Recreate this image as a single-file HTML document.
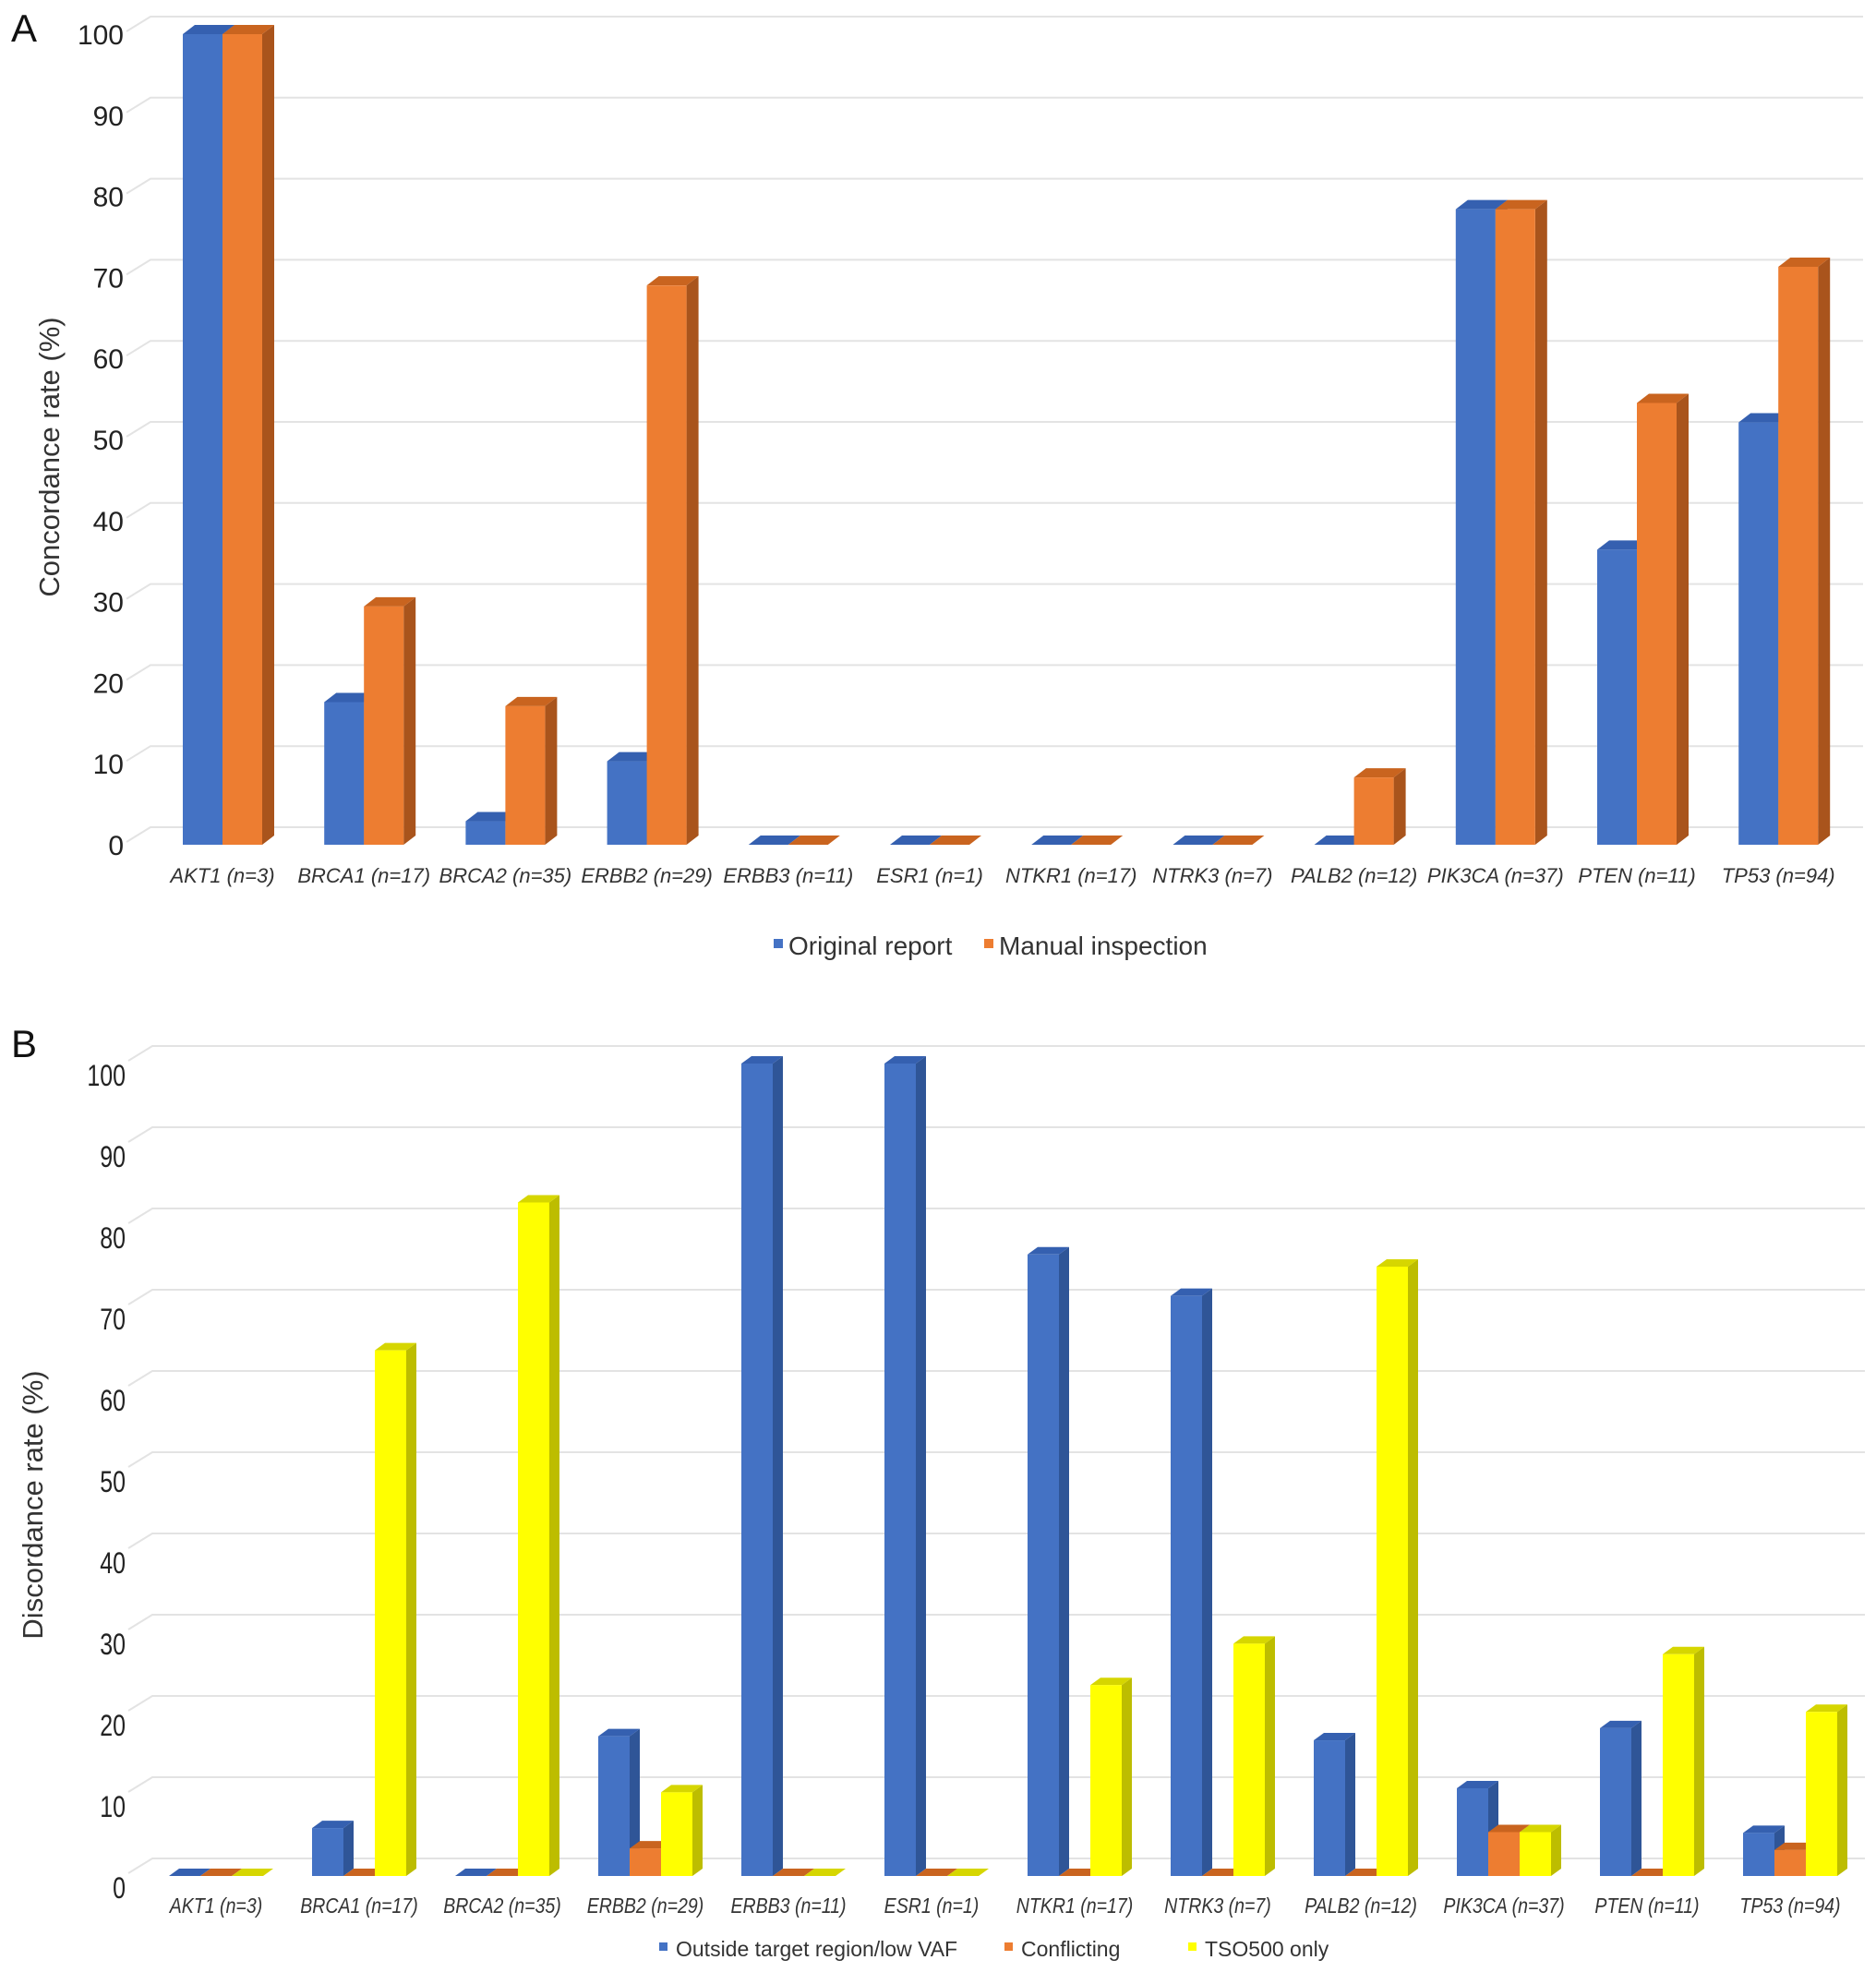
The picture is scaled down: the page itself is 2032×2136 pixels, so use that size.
<!DOCTYPE html>
<html><head><meta charset="utf-8"><style>
html,body{margin:0;padding:0;background:#fff}
svg{display:block;font-family:"Liberation Sans",sans-serif}
</style></head><body>
<svg id="fig" width="2032" height="2136" viewBox="0 0 2032 2136">
<text x="12" y="45" font-size="42" fill="#111">A</text>
<text x="12" y="1145" font-size="42" fill="#111">B</text>
<text transform="translate(64,495) rotate(-90)" text-anchor="middle" font-size="31" fill="#333">Concordance rate (%)</text>
<text transform="translate(46,1630) rotate(-90)" text-anchor="middle" font-size="31" fill="#333">Discordance rate (%)</text>
<g id="ga"></g>
<g id="gb"></g>
<g>
 <rect x="838" y="1017" width="10" height="10" fill="#4472C4"/>
 <text x="854" y="1034" font-size="28" fill="#333">Original report</text>
 <rect x="1066" y="1017" width="10" height="10" fill="#ED7D31"/>
 <text x="1082" y="1034" font-size="28" fill="#333">Manual inspection</text>
</g>
<g>
 <rect x="714" y="2104" width="9" height="9" fill="#4472C4"/>
 <text x="732" y="2119" font-size="23" fill="#333">Outside target region/low VAF</text>
 <rect x="1088" y="2104" width="9" height="9" fill="#ED7D31"/>
 <text x="1106" y="2119" font-size="23" fill="#333">Conflicting</text>
 <rect x="1287" y="2104" width="9" height="9" fill="#FFFF00"/>
 <text x="1305" y="2119" font-size="23" fill="#333">TSO500 only</text>
</g>
</svg>
<script>
const categories=["AKT1 (n=3)","BRCA1 (n=17)","BRCA2 (n=35)","ERBB2 (n=29)","ERBB3 (n=11)","ESR1 (n=1)","NTKR1 (n=17)","NTRK3 (n=7)","PALB2 (n=12)","PIK3CA (n=37)","PTEN (n=11)","TP53 (n=94)"];
const originalReport=[100,17.6,2.9,10.3,0,0,0,0,0,78.4,36.4,52.1];
const manualInspection=[100,29.4,17.1,69,0,0,0,0,8.3,78.4,54.5,71.3];
const outsideTarget=[0,5.9,0,17.2,100,100,76.5,71.4,16.7,10.8,18.2,5.3];
const conflicting=[0,0,0,3.4,0,0,0,0,0,5.4,0,3.2];
const tso500Only=[0,64.7,82.9,10.3,0,0,23.5,28.6,75,5.4,27.3,20.2];
const yTicks=[0,10,20,30,40,50,60,70,80,90,100];

const NS="http://www.w3.org/2000/svg";
function mk(p,tag,at){const e=document.createElementNS(NS,tag);for(const k in at)e.setAttribute(k,at[k]);p.appendChild(e);return e;}
const COL={b:["#4472C4","#2F5597","#3560B0"],o:["#ED7D31","#A9541C","#C9641F"],y:["#FFFF00","#BDBD00","#D6D600"]};

function chart(g,cfg){
  const ys=v=>cfg.base-v*cfg.unit;
  const xs=i=>cfg.x0+i*cfg.step;
  yTicks.forEach(t=>{
    const y=ys(t)-cfg.back;
    const gl=mk(g,"path",{d:`M${cfg.pl-26} ${y+16} L${cfg.pl} ${y} L${cfg.pr} ${y}`,stroke:"#e3e3e3","stroke-width":2,fill:"none"});
    
    
    const tl=mk(g,"text",{x:cfg.tx,y:ys(t)+cfg.tdy,"text-anchor":"end","font-size":cfg.tfs,fill:"#222"});
    if(cfg.narrow){tl.setAttribute("transform",`translate(${cfg.tx},0) scale(0.78,1) translate(${-cfg.tx},0)`);}
    tl.textContent=t;
    
    
  });
  const n=cfg.series.length, bw=cfg.bw, dx=cfg.dx, dy=cfg.dy;
  categories.forEach((c,i)=>{
    const gx=xs(i)-n*bw/2;
    cfg.series.forEach((s,j)=>{
      const v=s.data[i], col=COL[s.c];
      const x=gx+j*bw, yt=ys(v), yb=ys(0);
      const bg=mk(g,"g",{});
      
      
      mk(bg,"path",{d:`M${x+bw} ${yb} L${x+bw+dx} ${yb-dy} L${x+bw+dx} ${yt-dy} L${x+bw} ${yt}Z`,fill:col[1]});
      mk(bg,"path",{d:`M${x} ${yt} L${x+dx} ${yt-dy} L${x+bw+dx} ${yt-dy} L${x+bw} ${yt}Z`,fill:col[2]});
      if(v>0)mk(bg,"rect",{x:x,y:yt,width:bw,height:yb-yt,fill:col[0]});
    });
    const lb=mk(g,"text",{x:xs(i),y:cfg.ly,"text-anchor":"middle","font-size":cfg.lfs,"font-style":"italic",fill:"#333"});
    if(cfg.narrow){lb.setAttribute("transform",`translate(${xs(i)},0) scale(0.85,1) translate(${-xs(i)},0)`);}
    lb.textContent=c;
    
    
  });
}
chart(document.getElementById("ga"),{base:915,unit:8.78,back:19,x0:241,step:153.2,pl:163,pr:2018,tx:134,tdy:11,tfs:30,bw:43,dx:13,dy:10,ly:956,lfs:22,narrow:false,
  series:[{name:"original",data:originalReport,c:"b"},{name:"manual",data:manualInspection,c:"o"}]});
chart(document.getElementById("gb"),{base:2032,unit:8.8,back:19,x0:234,step:155,pl:165,pr:2020,tx:136,tdy:24,tfs:32,bw:34,dx:11,dy:8,ly:2072,lfs:23,narrow:true,
  series:[{name:"outside",data:outsideTarget,c:"b"},{name:"conflicting",data:conflicting,c:"o"},{name:"tso500",data:tso500Only,c:"y"}]});
</script>
</body></html>
